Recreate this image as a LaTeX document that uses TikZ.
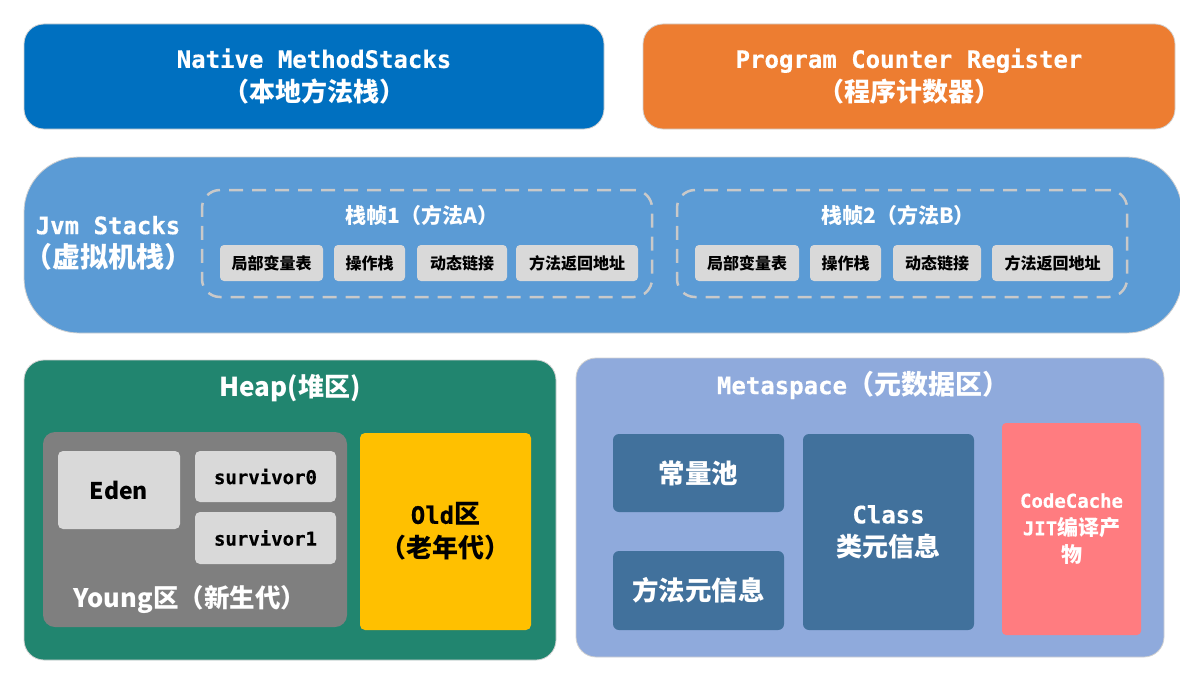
\documentclass[tikz,border=0pt]{standalone}
\usepackage{fontspec}
\newfontfamily\mono{DejaVu Sans Mono Bold}[FakeBold=0.5]
\newfontfamily\cjk{Noto Sans CJK SC}
\definecolor{cNative}{HTML}{0070C0}
\definecolor{cPC}{HTML}{ED7D31}
\definecolor{cJvm}{HTML}{5B9BD5}
\definecolor{cHeap}{HTML}{21856F}
\definecolor{cYoung}{HTML}{7F7F7F}
\definecolor{cLight}{HTML}{D9D9D9}
\definecolor{cOld}{HTML}{FFC000}
\definecolor{cMeta}{HTML}{8FAADC}
\definecolor{cDark}{HTML}{41719C}
\definecolor{cCode}{HTML}{FF7C80}
\definecolor{cDash}{HTML}{C9C9C9}
\begin{document}
\begin{tikzpicture}[x=1pt,y=-1pt,
  box/.style={inner sep=0pt, outer sep=0pt, anchor=north west, align=center},
  bigbox/.style={box, draw=black!18, line width=0.8pt, rounded corners=20pt, text=white},
  frame/.style={box, draw=cDash, line width=2.5pt, dash pattern=on 14pt off 9pt, rounded corners=18pt},
  cell/.style={box, fill=cLight, rounded corners=4pt, font=\cjk\bfseries\fontsize{16}{18}\selectfont, text=black},
  darkbox/.style={box, fill=cDark, rounded corners=6pt, text=white},
  lbl/.style={inner sep=0pt, outer sep=0pt, align=center, text=white}
]
\path[use as bounding box] (0,0) rectangle (1180,677);

% top boxes
\node[bigbox, fill=cNative, minimum width=580pt, minimum height=105pt, font=\fontsize{24}{34}\selectfont] (native) at (24,24)
  {{\mono Native MethodStacks}\\{\cjk\bfseries\fontsize{26}{34}\selectfont （本地方法栈）}};
\node[bigbox, fill=cPC, minimum width=532pt, minimum height=105pt, font=\fontsize{24}{34}\selectfont] (pc) at (643,24)
  {{\mono Program Counter Register}\\{\cjk\bfseries\fontsize{26}{34}\selectfont （程序计数器）}};

% jvm stacks
\node[bigbox, fill=cJvm, rounded corners=55pt, minimum width=1158pt, minimum height=176pt] (jvm) at (24,157) {};
\node[lbl, font=\fontsize{24}{33}\selectfont] (jvmlbl) at (108,243)
  {{\mono Jvm Stacks}\\{\cjk\bfseries\fontsize{28}{33}\selectfont （虚拟机栈）}};

\node[frame, minimum width=450pt, minimum height=107pt] (f1) at (202,190) {};
\node[lbl, font=\cjk\bfseries\fontsize{21}{23}\selectfont] (f1t) at (422,215) {栈帧1（方法A）};
\node[cell, minimum width=103pt, minimum height=36pt] (a1) at (220,245) {局部变量表};
\node[cell, minimum width=71pt, minimum height=36pt] (a2) at (334,245) {操作栈};
\node[cell, minimum width=90pt, minimum height=36pt] (a3) at (417,245) {动态链接};
\node[cell, minimum width=122pt, minimum height=36pt] (a4) at (516,245) {方法返回地址};

\node[frame, minimum width=450pt, minimum height=107pt] (f2) at (677,190) {};
\node[lbl, font=\cjk\bfseries\fontsize{21}{23}\selectfont] (f2t) at (898,215) {栈帧2（方法B）};
\node[cell, minimum width=104pt, minimum height=36pt] (b1) at (695,245) {局部变量表};
\node[cell, minimum width=71pt, minimum height=36pt] (b2) at (810,245) {操作栈};
\node[cell, minimum width=88pt, minimum height=36pt] (b3) at (893,245) {动态链接};
\node[cell, minimum width=121pt, minimum height=36pt] (b4) at (992,245) {方法返回地址};

% heap
\node[bigbox, fill=cHeap, minimum width=532pt, minimum height=300pt] (heap) at (24,360) {};
\node[lbl, font=\cjk\bfseries\fontsize{26}{28}\selectfont] (heapt) at (290,388) {Heap(堆区)};
\node[box, fill=cYoung, rounded corners=12pt, minimum width=304pt, minimum height=195pt] (young) at (43,432) {};
\node[box, fill=cLight, rounded corners=5pt, minimum width=122pt, minimum height=78pt, font=\cjk\bfseries\fontsize{23}{25}\selectfont] (eden) at (58,451) {Eden};
\node[box, fill=cLight, rounded corners=5pt, minimum width=141pt, minimum height=51pt, font=\mono\fontsize{19}{21}\selectfont] (s0) at (195,451) {survivor0};
\node[box, fill=cLight, rounded corners=5pt, minimum width=141pt, minimum height=52pt, font=\mono\fontsize{19}{21}\selectfont] (s1) at (195,512) {survivor1};
\node[lbl, font=\cjk\bfseries\fontsize{25.5}{27}\selectfont] (youngt) at (190,600) {Young区（新生代）};
\node[box, fill=cOld, rounded corners=5pt, minimum width=171pt, minimum height=197pt, text=black, font=\fontsize{24}{34}\selectfont] (old) at (360,433)
  {{\mono Old}{\cjk\bfseries\fontsize{26}{34}\selectfont 区}\\{\cjk\bfseries\fontsize{26}{34}\selectfont （老年代）}};

% metaspace
\node[bigbox, fill=cMeta, minimum width=588pt, minimum height=299pt] (meta) at (576,358) {};
\node[lbl, font=\fontsize{24}{28}\selectfont] (metat) at (863,385) {{\mono Metaspace}{\cjk\bfseries\fontsize{27}{28}\selectfont （元数据区）}};
\node[darkbox, minimum width=171pt, minimum height=78pt, font=\cjk\bfseries\fontsize{26.5}{28}\selectfont] (pool) at (613,434) {常量池};
\node[darkbox, minimum width=171pt, minimum height=79pt, font=\cjk\bfseries\fontsize{26.5}{28}\selectfont] (method) at (613,551) {方法元信息};
\node[darkbox, minimum width=171pt, minimum height=196pt, font=\fontsize{24}{33}\selectfont] (class) at (803,434)
  {{\mono Class}\\{\cjk\bfseries\fontsize{26}{33}\selectfont 类元信息}};
\node[box, fill=cCode, rounded corners=4pt, minimum width=139pt, minimum height=212pt, text=white, font=\fontsize{19}{27.5}\selectfont] (code) at (1002,423)
  {{\mono CodeCache}\\{\mono JIT}{\cjk\bfseries\fontsize{21}{27.5}\selectfont 编译产}\\{\cjk\bfseries\fontsize{21}{27.5}\selectfont 物}};
\end{tikzpicture}
\end{document}
